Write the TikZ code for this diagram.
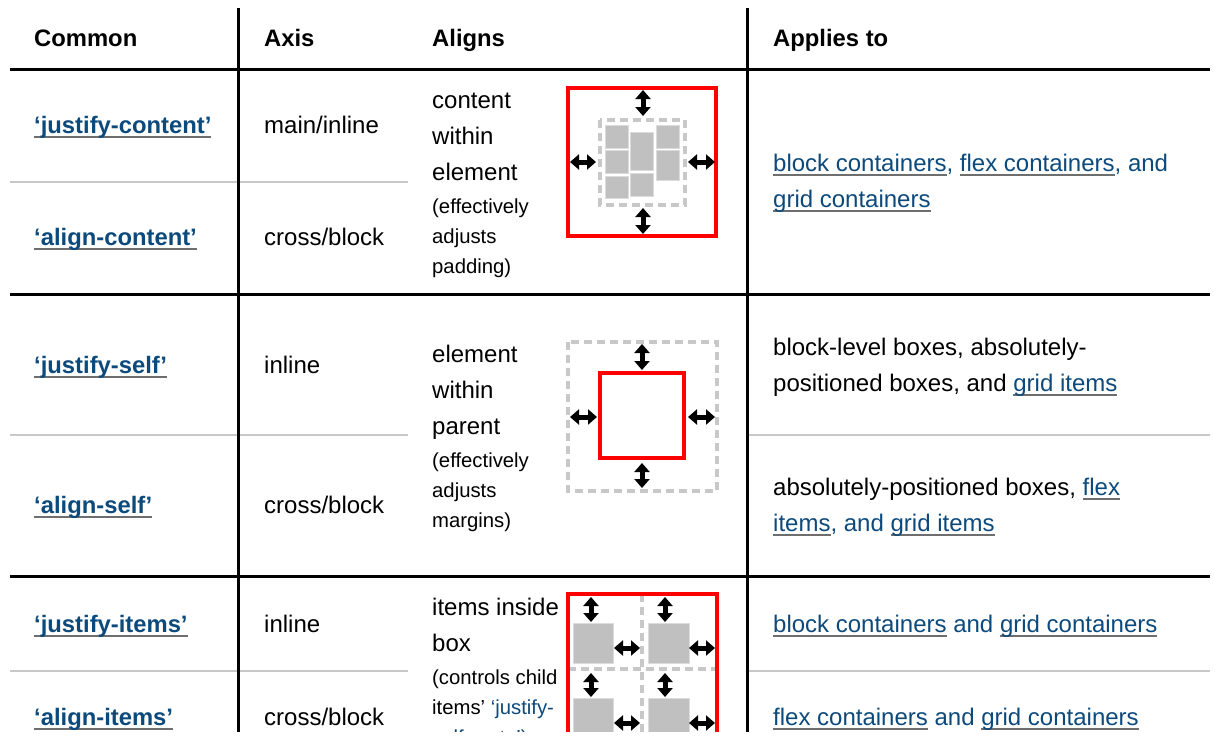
\documentclass[tikz,border=0pt]{standalone}
\usepackage{fontspec}
\setmainfont{Liberation Sans}
\usetikzlibrary{arrows.meta}
\definecolor{linkblue}{HTML}{0D4A7C}
\definecolor{ulgray}{HTML}{6E6E6E}
\definecolor{boxgray}{HTML}{C0C0C0}
\definecolor{boxedge}{HTML}{DCDCDC}
\definecolor{dashgray}{HTML}{C8C8C8}
\definecolor{rulegray}{HTML}{C8C8C8}
\definecolor{cssred}{HTML}{FF0000}
\newcommand\mylink[1]{{\setbox0=\hbox{\color{linkblue}#1}\rlap{\color{ulgray}\rule[-5pt]{\wd0}{1.6pt}}\box0}}
\begin{document}
\begin{tikzpicture}[x=1pt,y=-1pt,
  txt/.style={anchor=base west, inner sep=0pt, font=\fontsize{24}{29}\selectfont},
  sm/.style={anchor=base west, inner sep=0pt, font=\fontsize{20.3}{24}\selectfont},
  hd/.style={anchor=base west, inner sep=0pt, font=\fontsize{23.8}{29}\selectfont\bfseries},
  lk/.style={anchor=base west, inner sep=0pt, font=\fontsize{23.8}{29}\selectfont\bfseries},
  thickrule/.style={line width=3pt},
  thinrule/.style={line width=1.2pt, draw=rulegray},
  redbox/.style={draw=cssred, line width=4pt},
  dashbox/.style={draw=dashgray, line width=4pt, dash pattern=on 8pt off 5pt},
  itembox/.style={fill=boxgray, draw=boxedge, line width=1pt},
  dbl/.style={line width=5pt, {Triangle[width=15pt,length=9pt]}-{Triangle[width=15pt,length=9pt]}}
]
\useasboundingbox[fill=white] (0,0) rectangle (1215,744);
\begin{scope}
\clip (0,0) rectangle (1215,731);
% rules
\draw[thinrule] (10,182) -- (408,182);
\draw[thinrule] (10,435) -- (408,435);
\draw[thinrule] (747,435) -- (1210,435);
\draw[thinrule] (10,671) -- (408,671);
\draw[thinrule] (747,671) -- (1210,671);
\draw[thickrule] (10,69) -- (1210,69);
\draw[thickrule] (10,294) -- (1210,294);
\draw[thickrule] (10,576) -- (1210,576);
\draw[thickrule] (238,8) -- (238,740);
\draw[thickrule] (747,8) -- (747,740);

% header
\node[hd] (hcommon) at (34,46) {Common};
\node[hd] (haxis) at (264,46) {Axis};
\node[hd] (haligns) at (432,46) {Aligns};
\node[hd] (happlies) at (773,46) {Applies to};

% column 1
\node[lk] (jc) at (34,133) {\mylink{‘justify-content’}};
\node[lk] (ac) at (34,245) {\mylink{‘align-content’}};
\node[lk] (js) at (34,373) {\mylink{‘justify-self’}};
\node[lk] (as) at (34,513) {\mylink{‘align-self’}};
\node[lk] (ji) at (34,632) {\mylink{‘justify-items’}};
\node[lk] (ai) at (34,725) {\mylink{‘align-items’}};

% column 2
\node[txt] (x1) at (264,133) {main/inline};
\node[txt] (x2) at (264,245) {cross/block};
\node[txt] (x3) at (264,373) {inline};
\node[txt] (x4) at (264,513) {cross/block};
\node[txt] (x5) at (264,632) {inline};
\node[txt] (x6) at (264,725) {cross/block};

% column 3 texts
\node[txt] (a1a) at (432,108) {content};
\node[txt] (a1b) at (432,144) {within};
\node[txt] (a1c) at (432,180) {element};
\node[sm] (a1d) at (432,213) {(effectively};
\node[sm] (a1e) at (432,243) {adjusts};
\node[sm] (a1f) at (432,273) {padding)};

\node[txt] (a2a) at (432,362) {element};
\node[txt] (a2b) at (432,398) {within};
\node[txt] (a2c) at (432,434) {parent};
\node[sm] (a2d) at (432,467) {(effectively};
\node[sm] (a2e) at (432,497) {adjusts};
\node[sm] (a2f) at (432,527) {margins)};

\node[txt] (a3a) at (432,615) {items inside};
\node[txt] (a3b) at (432,651) {box};
\node[sm] (a3c) at (432,684) {(controls child};
\node[sm] (a3d) at (432,714) {items’ \textcolor{linkblue}{‘justify-}};
\node[sm] (a3e) at (432,744) {\textcolor{linkblue}{self: auto’)}};

% column 4 texts
\node[txt] (p1a) at (773,171) {\mylink{block containers}, \mylink{flex containers}, and};
\node[txt] (p1b) at (773,207) {\mylink{grid containers}};
\node[txt] (p2a) at (773,355) {block-level boxes, absolutely-};
\node[txt] (p2b) at (773,391) {positioned boxes, and \mylink{grid items}};
\node[txt] (p3a) at (773,495) {absolutely-positioned boxes, \mylink{flex}};
\node[txt] (p3b) at (773,531) {\mylink{items}, and \mylink{grid items}};
\node[txt] (p4) at (773,632) {\mylink{block containers} and \mylink{grid containers}};
\node[txt] (p5) at (773,725) {\mylink{flex containers} and \mylink{grid containers}};

% figure 1
\draw[redbox] (568,88) rectangle (716,236);
\draw[dashbox] (600,120) rectangle (685,205);
\draw[itembox] (605,125) rectangle (628,148);
\draw[itembox] (605,150) rectangle (628,173);
\draw[itembox] (605,176) rectangle (628,198);
\draw[itembox] (630,132) rectangle (653,170);
\draw[itembox] (630,173) rectangle (653,196);
\draw[itembox] (656,125) rectangle (679,148);
\draw[itembox] (656,150) rectangle (679,180);
\draw[dbl] (643,90) -- (643,116);
\draw[dbl] (643,208) -- (643,234);
\draw[dbl] (570,162) -- (596,162);
\draw[dbl] (688,162) -- (715,162);

% figure 2
\draw[dashbox] (568,342) rectangle (717,491);
\draw[redbox] (600,373) rectangle (684,458);
\draw[dbl] (642,344) -- (642,370);
\draw[dbl] (642,463) -- (642,488);
\draw[dbl] (570,417) -- (597,417);
\draw[dbl] (688,417) -- (715,417);

% figure 3
\draw[dashbox] (642,594) -- (642,760);
\draw[dashbox] (568,669) -- (717,669);
\draw[redbox] (568,594) rectangle (717,770);
\draw[itembox] (573,623) rectangle (613,663);
\draw[itembox] (648,623) rectangle (689,663);
\draw[itembox] (573,698) rectangle (613,738);
\draw[itembox] (648,698) rectangle (689,738);
\draw[dbl] (591,597) -- (591,622);
\draw[dbl] (665,597) -- (665,622);
\draw[dbl] (591,673) -- (591,697);
\draw[dbl] (665,673) -- (665,697);
\draw[dbl] (614,648) -- (640,648);
\draw[dbl] (689,648) -- (715,648);
\draw[dbl] (614,723) -- (640,723);
\draw[dbl] (689,723) -- (715,723);
\end{scope}
\end{tikzpicture}
\end{document}
